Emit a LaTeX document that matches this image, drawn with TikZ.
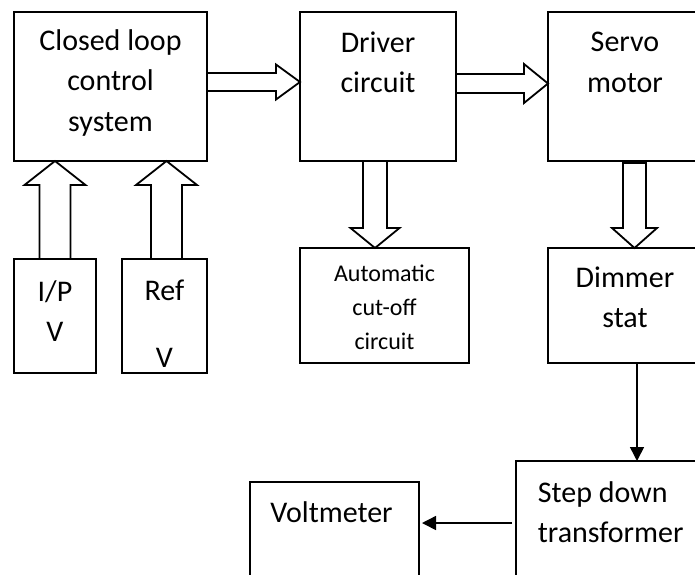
\documentclass[tikz,border=0pt]{standalone}
\usepackage{fontspec}
\setmainfont{Carlito}
\usetikzlibrary{positioning,calc,arrows.meta}

\begin{document}
\begin{tikzpicture}[x=1pt, y=-1pt, line width=1.8pt,
  block/.style={draw, rectangle, inner sep=0pt, outer sep=0pt},
  bigtext/.style={font=\fontsize{30}{40.5}\selectfont, align=center, inner sep=0pt},
  smalltext/.style={font=\fontsize{24}{34}\selectfont, align=center, inner sep=0pt},
  blockarrow/.style n args={3}{to path={
    ($(\tikztostart)!#1!90:(\tikztotarget)$)
    -- ($(\tikztotarget)!#3!(\tikztostart)!#1!-90:(\tikztostart)$)
    -- ($(\tikztotarget)!#3!(\tikztostart)!#2!-90:(\tikztostart)$)
    -- (\tikztotarget)
    -- ($(\tikztotarget)!#3!(\tikztostart)!#2!90:(\tikztostart)$)
    -- ($(\tikztotarget)!#3!(\tikztostart)!#1!90:(\tikztostart)$)
    -- ($(\tikztostart)!#1!-90:(\tikztotarget)$)
    -- cycle}},
  signal/.style={line width=1.5pt, -{Triangle[length=14pt, width=14pt]}}]

\useasboundingbox (0,0) rectangle (695,574);
\clip (0,0) rectangle (695,574);

% BLOCKS

\node [block, minimum width=193pt, minimum height=149pt, anchor=north west] (closed-loop) at (14,12) {};
\node [bigtext] (closed-loop-text) at ([yshift=4pt]closed-loop.center) {Closed loop\\control\\system};

\node [block, minimum width=156pt, minimum height=149pt, right=93pt of closed-loop] (driver) {};
\node [bigtext] (driver-text) at ([yshift=24pt]driver.center) {Driver\\circuit};

\node [block, minimum width=154pt, minimum height=149pt, right=92pt of driver] (servo) {};
\node [bigtext] (servo-text) at ([yshift=24pt]servo.center) {Servo\\motor};

\node [block, minimum width=82pt, minimum height=114pt, below=98pt of closed-loop.south west, anchor=north west] (ip-v) {};
\node [bigtext] (ip-v-text) at ([yshift=5pt]ip-v.center) {I/P\\V};

\node [block, minimum width=85pt, minimum height=114pt, right=26pt of ip-v] (ref-v) {};
\node [bigtext] (ref-v-text) at ([yshift=-7.5pt]ref-v.center) {Ref\\[26pt]V};

\node [block, minimum width=169pt, minimum height=115pt, below=87pt of driver.south west, anchor=north west] (cutoff) {};
\node [smalltext] (cutoff-text) at ([yshift=-2pt]cutoff.center) {Automatic\\cut-off\\circuit};

\node [block, minimum width=154pt, minimum height=115pt, below=87pt of servo.south west, anchor=north west] (dimmer) {};
\node [bigtext] (dimmer-text) at ([yshift=8pt]dimmer.center) {Dimmer\\stat};

\node [block, minimum width=204pt, minimum height=124pt, below=98pt of dimmer.south west, anchor=north west, xshift=-32pt] (step-down) {};
\node [bigtext, align=left, anchor=west] (step-down-text) at ([xshift=21pt, yshift=11pt]step-down.west) {Step down\\transformer};

\node [block, minimum width=169pt, minimum height=120pt, left=97pt of step-down.north west, anchor=north east, yshift=-21pt] (voltmeter) {};
\node [bigtext] (voltmeter-text) at ([xshift=-3pt, yshift=-30pt]voltmeter.north) {Voltmeter};

% ARROWS

\draw ([yshift=4.5pt]closed-loop.east) to[blockarrow={9pt}{17.5pt}{24pt}] ([yshift=4.5pt]driver.west);
\draw ([yshift=3pt]driver.east) to[blockarrow={9.5pt}{19.5pt}{24pt}] ([yshift=3pt]servo.west);
\draw (ip-v.north) to[blockarrow={15.5pt}{30.5pt}{24pt}] (ip-v.north |- closed-loop.south);
\draw ([xshift=2pt]ref-v.north) to[blockarrow={15.5pt}{30.5pt}{24pt}] ([xshift=2pt]ref-v.north |- closed-loop.south);
\draw ([xshift=-3pt]driver.south) to[blockarrow={12pt}{24.5pt}{20pt}] ([xshift=-3pt]driver.south |- cutoff.north);
\draw ([xshift=9.5pt, yshift=-2pt]servo.south) to[blockarrow={11.5pt}{22.5pt}{20pt}] ([xshift=9.5pt]servo.south |- dimmer.north);

\draw [signal] ([xshift=12pt]dimmer.south) -- ([xshift=12pt]dimmer.south |- step-down.north);
\draw [signal, shorten <=4pt, shorten >=3pt] (step-down.west) -- (step-down.west -| voltmeter.east);

\end{tikzpicture}
\end{document}
